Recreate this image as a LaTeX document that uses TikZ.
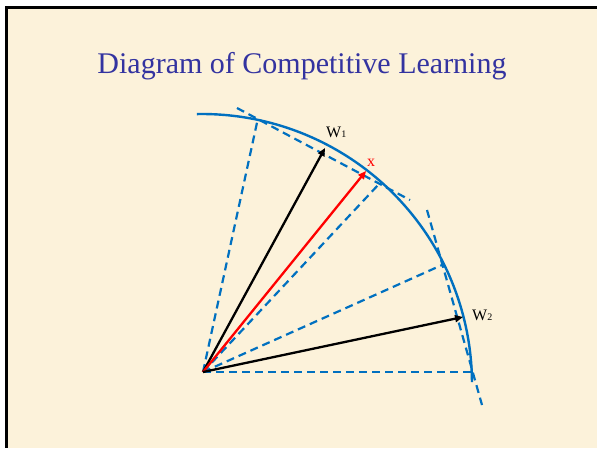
\documentclass[tikz,border=0pt]{standalone}
\usepackage{fontspec}
\setmainfont{Liberation Serif}
\usetikzlibrary{arrows.meta}
\definecolor{bgbeige}{RGB}{252,242,218}
\definecolor{titleblue}{RGB}{51,51,160}
\definecolor{arcblue}{RGB}{0,112,192}
\tikzset{
  dashline/.style={draw=arcblue, line width=2.2pt, dash pattern=on 8pt off 5pt},
  vecarrow/.style={line width=2.3pt, -{Triangle[length=8pt,width=7pt]}},
  lbl/.style={inner sep=0pt, anchor=base west, font=\fontsize{16}{16}\selectfont},
}
\begin{document}
\begin{tikzpicture}[x=1pt,y=-1pt]
\useasboundingbox (0,0) rectangle (597,448);
\fill[white] (0,0) rectangle (597,448);
\fill[black] (5,6) rectangle (597,448);
\fill[bgbeige] (8,9) rectangle (597,448);

\node[text=titleblue, font=\fontsize{30}{30}\selectfont, anchor=base] (title) at (302,73) {Diagram of Competitive Learning};

\coordinate (O) at (203,372);
\coordinate (C) at (202,384);
\coordinate (w1) at (325,148);
\coordinate (xv) at (366,171);
\coordinate (w2) at (463,317);

% dashed construction lines
\coordinate (t1a) at (237,108);
\coordinate (t1b) at (410,200);
\coordinate (t2a) at (427,210);
\coordinate (t2b) at (482,405);
\coordinate (r1) at (258,118);
\coordinate (r2) at (379,184);
\coordinate (r3) at (442,265);
\coordinate (r4) at (472,372);
\draw[dashline] (t1a) -- (t1b);
\draw[dashline] (t2a) -- (t2b);
\draw[dashline] (O) -- (r1);
\draw[dashline] (O) -- (r2);
\draw[dashline] (O) -- (r3);
\draw[dashline] (O) -- (r4);

% arc
\draw[arcblue, line width=2.4pt] (C) ++(-91.1:270) arc[start angle=-91.1, end angle=-0.4, radius=270];

% vectors
\draw[vecarrow, black] (O) -- (w1);
\draw[vecarrow, red] (O) -- (xv);
\draw[vecarrow, black] (O) -- (w2);

\node[lbl] (lw1) at (326,137) {W\fontsize{10}{10}\selectfont 1};
\node[lbl, text=red] (lx) at (367,166) {x};
\node[lbl] (lw2) at (472,320) {W\fontsize{10}{10}\selectfont 2};
\end{tikzpicture}
\end{document}
